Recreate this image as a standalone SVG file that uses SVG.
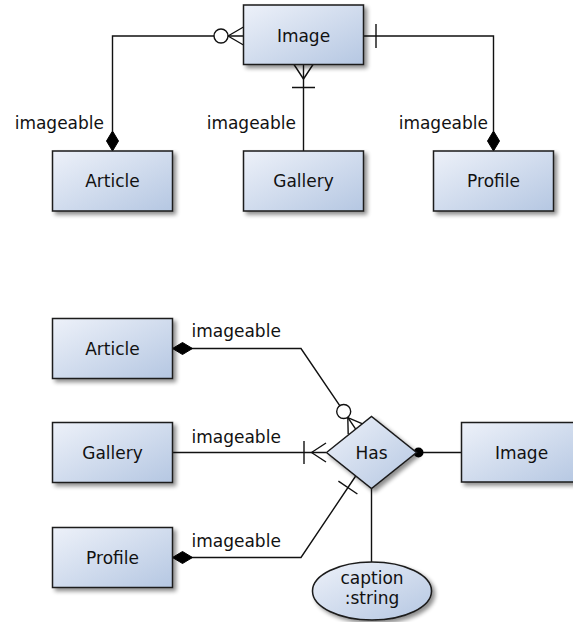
<svg xmlns="http://www.w3.org/2000/svg" width="573" height="622" viewBox="0 0 573 622">
<defs>
<linearGradient id="fill" x1="0" y1="0" x2="1" y2="1">
<stop offset="0" stop-color="#edf1f9"/>
<stop offset="1" stop-color="#b5c7e2"/>
</linearGradient>
<filter id="shadow" x="-20%" y="-20%" width="150%" height="150%">
<feGaussianBlur in="SourceAlpha" stdDeviation="2"/>
<feOffset dx="3" dy="3" result="b"/>
<feComponentTransfer><feFuncA type="linear" slope="0.45"/></feComponentTransfer>
<feMerge><feMergeNode/><feMergeNode in="SourceGraphic"/></feMerge>
</filter>
</defs>
<style>
.box{fill:url(#fill);stroke:#1a1a1a;stroke-width:1.5;filter:url(#shadow)}
.lbl{font-family:"DejaVu Sans",sans-serif;font-size:17px;fill:#111}
.nm{font-family:"DejaVu Sans",sans-serif;font-size:17px;fill:#111;text-anchor:middle}
.ln{fill:none;stroke:#111;stroke-width:1.4}
.dia{fill:#000;stroke:#000;stroke-width:1}
.circ{fill:#fff;stroke:#111;stroke-width:1.4}
</style>
<rect width="573" height="622" fill="#fff"/>
<g id="connectors">
<path class="ln" d="M243.5,36 H112.5 V131"/>
<path class="ln" d="M228,36 L243.5,27 M228,36 L243.5,45"/>
<circle class="circ" cx="221" cy="36" r="7"/>
<polygon class="dia" points="112.5,131 118.5,141 112.5,151 106.5,141"/>
<path class="ln" d="M303.5,64.5 V151"/>
<path class="ln" d="M303.5,79 L294,64.5 M303.5,79 L313,64.5 M292,87.5 H315"/>
<path class="ln" d="M363.5,36 H493.5 V131"/>
<path class="ln" d="M376,24 V48"/>
<polygon class="dia" points="493.5,131 499.5,141 493.5,151 487.5,141"/>
<text class="lbl" x="104" y="129" text-anchor="end">imageable</text>
<text class="lbl" x="296" y="129" text-anchor="end">imageable</text>
<text class="lbl" x="488" y="129" text-anchor="end">imageable</text>

<path class="ln" d="M172.5,348.5 H301 L355.7,429.2"/>
<path class="ln" d="M347.8,417.6 L363.2,424.2 M347.8,417.6 L348.2,434.2"/>
<circle class="circ" cx="343.7" cy="411.5" r="7"/>
<polygon class="dia" points="172.5,348.5 182.5,342.5 192.5,348.5 182.5,354.5"/>
<path class="ln" d="M172.5,452.5 H326"/>
<path class="ln" d="M311.5,452.5 L326,443 M311.5,452.5 L326,462 M304,441 V464"/>
<path class="ln" d="M172.5,557.5 H301 L355.7,476"/>
<path class="ln" d="M338.4,481.2 L357.4,494"/>
<polygon class="dia" points="172.5,557.5 182.5,551.5 192.5,557.5 182.5,563.5"/>
<path class="ln" d="M416.5,452.5 H461.5"/>
<circle cx="418.5" cy="452.5" r="5" fill="#000"/>
<path class="ln" d="M371.5,488.5 V562"/>
<text class="lbl" x="191.5" y="337">imageable</text>
<text class="lbl" x="191.5" y="443">imageable</text>
<text class="lbl" x="191.5" y="547">imageable</text>
</g>
<g id="image-top"><rect class="box" x="243.5" y="5" width="120" height="59.5"/><text class="nm" x="303.5" y="41.5">Image</text></g>
<g id="article-top"><rect class="box" x="52.5" y="151" width="120" height="60"/><text class="nm" x="112.5" y="187">Article</text></g>
<g id="gallery-top"><rect class="box" x="243.5" y="151" width="120" height="60"/><text class="nm" x="303.5" y="187">Gallery</text></g>
<g id="profile-top"><rect class="box" x="433.5" y="151" width="120" height="60"/><text class="nm" x="493.5" y="187">Profile</text></g>
<g id="article-bottom"><rect class="box" x="52.5" y="318.5" width="120" height="60"/><text class="nm" x="112.5" y="354.5">Article</text></g>
<g id="gallery-bottom"><rect class="box" x="52.5" y="422.5" width="120" height="60"/><text class="nm" x="112.5" y="458.5">Gallery</text></g>
<g id="profile-bottom"><rect class="box" x="52.5" y="527.5" width="120" height="60"/><text class="nm" x="112.5" y="563.5">Profile</text></g>
<g id="has"><polygon class="box" points="326.5,452.5 371.5,416.5 416.5,452.5 371.5,488.5"/><text class="nm" x="371.5" y="458.5">Has</text></g>
<g id="image-bottom"><rect class="box" x="461.5" y="422.5" width="120" height="59.5"/><text class="nm" x="521.5" y="458.5">Image</text></g>
<g id="caption"><ellipse class="box" cx="372" cy="591" rx="59.5" ry="29"/><text class="nm" x="372" y="584">caption</text><text class="nm" x="372" y="604">:string</text></g>
</svg>
